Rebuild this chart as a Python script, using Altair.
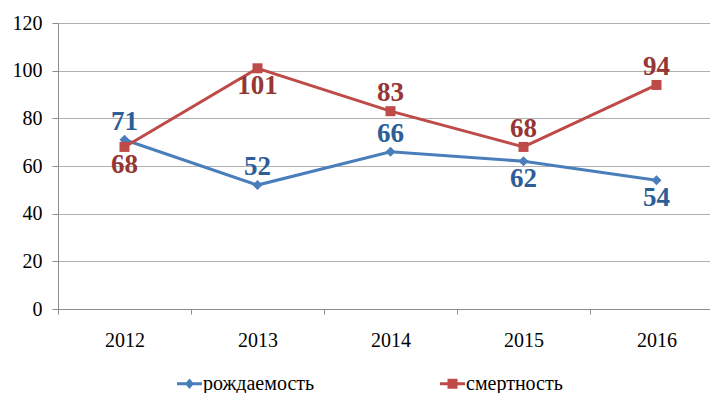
import altair as alt
import pandas as pd

years = ["2012", "2013", "2014", "2015", "2016"]
series = ["рождаемость", "смертность"]
births = [71, 52, 66, 62, 54]
deaths = [68, 101, 83, 68, 94]
# label placement above (True) / below (False) the point
births_above = [True, True, True, False, False]
deaths_above = [False, False, True, True, True]

line_colors = ["#4A7EBB", "#BE4B48"]
label_colors = ["#2E5E97", "#953735"]
marker_shapes = ["diamond", "square"]

rows = []
for vals, ab, s in [(births, births_above, series[0]), (deaths, deaths_above, series[1])]:
    for y, v, a in zip(years, vals, ab):
        rows.append({"year": y, "series": s, "value": v, "above": a})
df = pd.DataFrame(rows)

FONT = "Liberation Serif"

x_enc = alt.X("year:N", sort=years, title=None,
              scale=alt.Scale(type="band", paddingInner=0, paddingOuter=0, range=[0, 665]),
              axis=alt.Axis(tickBand="extent", labelAngle=0, labelFontSize=20, labelFont=FONT,
                            labelColor="#000000", domainColor="#8c8c8c", tickColor="#8c8c8c",
                            tickSize=5, labelPadding=16, grid=False))
y_enc = alt.Y("value:Q", title=None,
              scale=alt.Scale(domain=[0, 120], nice=False),
              axis=alt.Axis(values=[0, 20, 40, 60, 80, 100, 120], labelFontSize=20, labelFont=FONT,
                            labelColor="#000000", domainColor="#8c8c8c", tickColor="#8c8c8c",
                            tickSize=6, labelPadding=10, gridColor="#b0b0b0", gridWidth=1))

color_scale = alt.Scale(domain=series, range=line_colors)

r_line = "M-1,-0.12H1V0.12H-1Z"
p_diamond = r_line + "M0,-0.42L0.36,0L0,0.42L-0.36,0Z"
p_square = r_line + "M-0.4,-0.4H0.4V0.4H-0.4Z"

base = alt.Chart(df)

lines = [
    base.transform_filter(alt.datum.series == s).mark_line(strokeWidth=3, color=c).encode(x=x_enc, y=y_enc)
    for s, c in zip(series, line_colors)
]

points = [
    base.transform_filter(alt.datum.series == s).mark_point(
        filled=True, opacity=1, size=100, shape=sh, color=c
    ).encode(x=x_enc, y=y_enc)
    for s, c, sh in zip(series, line_colors, marker_shapes)
]

# invisible layer that carries the legend
legend_layer = base.mark_point(filled=True, size=0, opacity=1).encode(
    x=x_enc, y=y_enc,
    color=alt.Color("series:N", scale=color_scale, title=None,
                    legend=alt.Legend(
                        orient="none", legendX=119, legendY=348, direction="horizontal",
                        labelFont=FONT, labelFontSize=20, labelColor="#000000",
                        symbolSize=625, labelOffset=1, columnPadding=125, labelLimit=400,
                        symbolStrokeWidth=0, symbolOpacity=1,
                        symbolType={"expr": f"datum.value === '{series[0]}' ? '{p_diamond}' : '{p_square}'"},
                    )),
)

texts = []
for s, c in zip(series, label_colors):
    for above, dy in [(True, -18), (False, 18)]:
        texts.append(
            base.transform_filter(
                (alt.datum.series == s) & (alt.datum.above == above)
            ).mark_text(font=FONT, fontSize=27, fontWeight="bold", color=c, dy=dy, baseline="middle").encode(
                x=x_enc, y=y_enc, text="value:Q"
            )
        )

chart = alt.layer(*lines, *points, legend_layer, *texts).properties(
    width=652, height=286,
    padding={"left": 50, "top": 15, "right": 0, "bottom": 84},
    autosize=alt.AutoSizeParams(type="none"),
).configure_view(stroke=None).configure_legend(
    labelFont=FONT
).configure(background="#ffffff")

chart.save("out.html", embed_options={"renderer": "svg", "actions": False})
